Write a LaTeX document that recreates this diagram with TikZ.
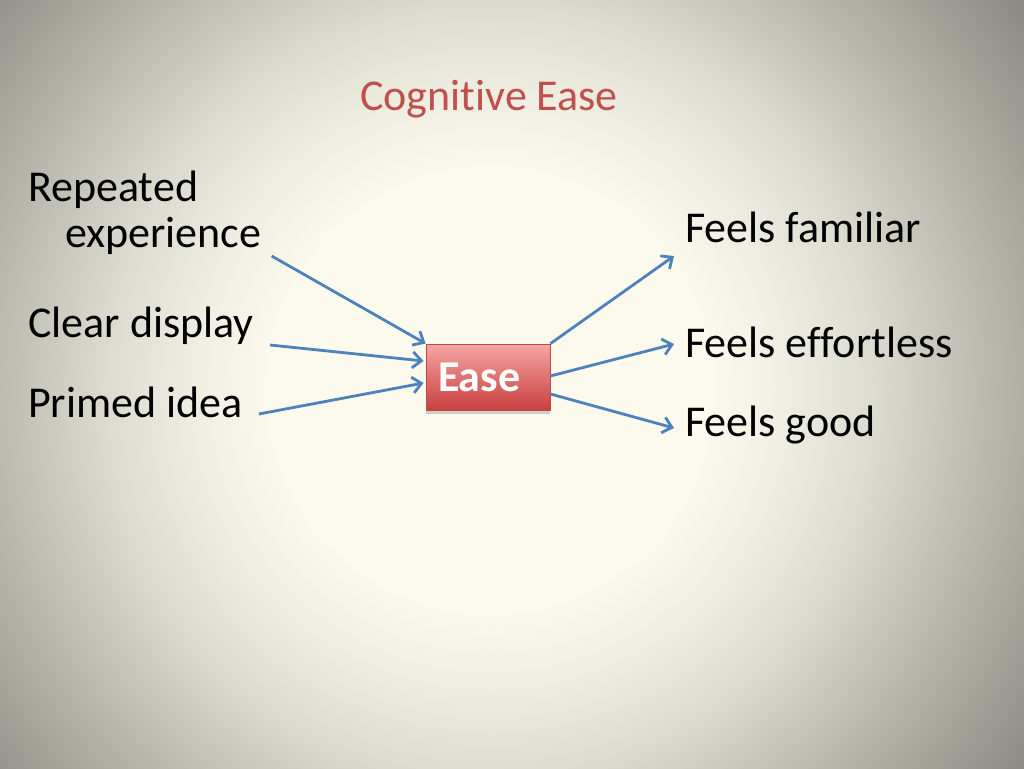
\documentclass[tikz,border=0pt]{standalone}
\usepackage{fontspec}
\setmainfont{Carlito}[Ligatures=NoCommon]
\usetikzlibrary{arrows.meta,calc,shadows}

\definecolor{titlered}{HTML}{C0504D}
\definecolor{linkblue}{HTML}{4F81BD}
\definecolor{bgin}{HTML}{FBFAEC}
\definecolor{bgone}{HTML}{EEEDE1}
\definecolor{bgtwo}{HTML}{DDDCD0}
\definecolor{bgedge}{HTML}{BCBBB1}
\definecolor{bgout}{HTML}{8A8A82}
\definecolor{easetop}{HTML}{F6A6A3}
\definecolor{easebot}{HTML}{C8403E}
\definecolor{easeedge}{HTML}{BE4A47}

% 25bp = 700px from the centre of the slide light
\pgfdeclareradialshading{slidebg}{\pgfpoint{0bp}{0bp}}{color(0bp)=(bgin); color(7.8bp)=(bgin); color(10.7bp)=(bgone); color(13.6bp)=(bgtwo); color(17.5bp)=(bgedge); color(23.5bp)=(bgout); color(50bp)=(bgout)}

\tikzset{
  word/.style={anchor=base west, inner sep=0pt, font=\fontsize{44}{46}\selectfont},
  easebox/.style={minimum width=124pt, minimum height=66pt, text width=100pt,
    inner xsep=12pt, inner ysep=0pt, align=left, top color=easetop,
    bottom color=easebot, draw=easeedge, line width=0.8pt, text=white,
    font=\fontsize{44}{46}\selectfont\bfseries,
    drop shadow={opacity=0.35, shadow xshift=0pt, shadow yshift=-4pt}},
  link/.style={draw=linkblue, line width=2.8pt, -{Straight Barb[length=9pt,width=16pt]}}
}

\begin{document}
\begin{tikzpicture}[x=1pt,y=1pt]
    % Slide background
    \useasboundingbox (0,0) rectangle (1024,-768);
    \begin{scope}
        \clip (0,0) rectangle (1024,-768);
        \shade[shading=slidebg] (-210,-1090) rectangle (1190,310);
    \end{scope}

    % Title
    \node[word, anchor=base, text=titlered] (title) at (489,-110) {Cognitive Ease};

    % Causes
    \node[word] (rep) at (28,-201) {Repeated};
    \node[word] (exp) at (65,-247) {experience};
    \node[word] (clear) at (28,-337) {Clear display};
    \node[word] (primed) at (28,-417) {Primed idea};

    % Centre box
    \node[easebox] (ease) at (488,-377) {Ease};

    % Effects
    \node[word] (fam) at (685,-242) {Feels familiar};
    \node[word] (eff) at (685,-357) {Feels effortless};
    \node[word] (good) at (685,-436) {Feels good};

    % Arrows in
    \draw[link] ($(exp.base east)+(10,-9)$) -- (ease.north west);
    \draw[link] ($(clear.base east)+(16,-8)$) -- ($(ease.west)+(-2,16)$);
    \draw[link] ($(primed.base east)+(16,3)$) -- ($(ease.west)+(-2,-6)$);

    % Arrows out
    \draw[link] (ease.north east) -- ($(fam.base west)+(-11,-14)$);
    \draw[link] ($(ease.east)+(0,1)$) -- ($(eff.base west)+(-11,13)$);
    \draw[link] ($(ease.east)+(0,-17)$) -- ($(good.base west)+(-11,8)$);
\end{tikzpicture}
\end{document}
